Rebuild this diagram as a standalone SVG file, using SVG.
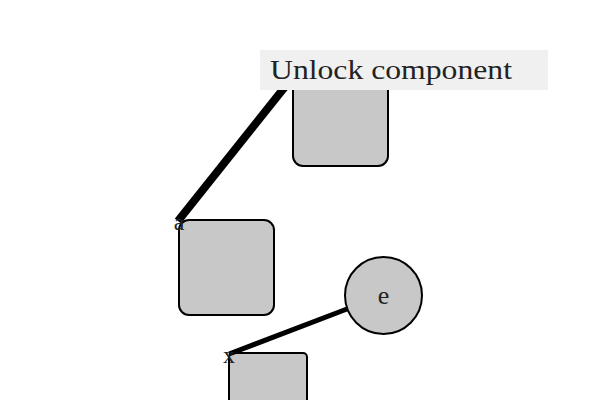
<svg xmlns="http://www.w3.org/2000/svg" width="600" height="400" viewBox="0 0 600 400">
<style>
.node{fill:#c8c8c8;stroke:#000;stroke-width:2}
.lbl{font-family:"Liberation Serif","DejaVu Serif",serif;fill:#222}
.edge{stroke:#000;fill:none;stroke-linecap:butt}
</style>
<rect width="600" height="400" fill="#fff"/>
<g id="top-box"><rect class="node" x="293" y="71" width="95" height="95" rx="10"/></g>
<g id="a"><rect class="node" x="179" y="220" width="95" height="95" rx="10"/></g>
<g id="e"><circle class="node" cx="383.5" cy="295.5" r="38.5"/><text class="lbl" x="383.5" y="304" font-size="26" text-anchor="middle">e</text></g>
<g id="x"><rect class="node" x="229" y="353" width="78" height="78" rx="4"/></g>
<g id="connectors">
<line class="edge" x1="178" y1="221" x2="292" y2="78" stroke-width="8"/>
<line class="edge" x1="229" y1="354" x2="347" y2="309" stroke-width="5"/>
</g>
<text class="lbl" x="179" y="230" font-size="24" text-anchor="middle">a</text>
<text class="lbl" x="229" y="363" font-size="24" text-anchor="middle">x</text>
<g id="label"><rect x="260" y="50" width="288" height="40" fill="#f0f0f0"/><text class="lbl" x="270" y="79" font-size="28" textLength="242" lengthAdjust="spacingAndGlyphs">Unlock component</text></g>
</svg>
